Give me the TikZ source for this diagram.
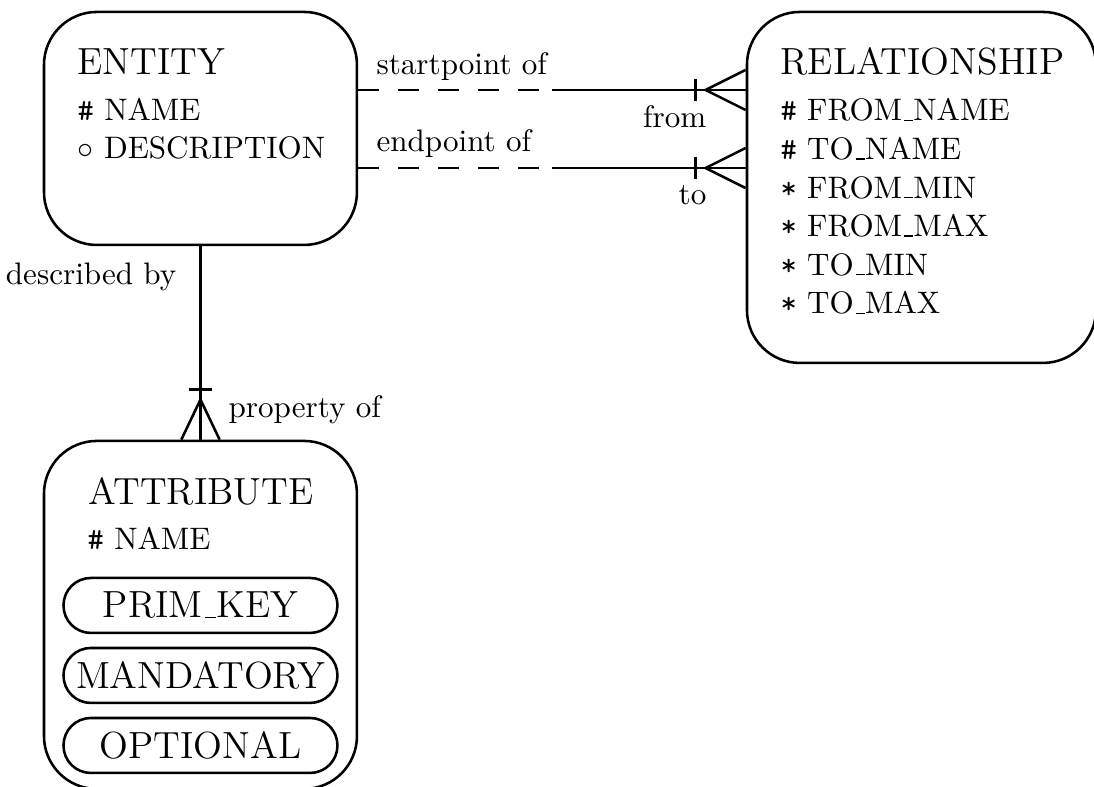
\documentclass[tikz,border=0pt]{standalone}
\usetikzlibrary{calc}

\newcommand{\usc}{\leavevmode\kern.06em\vbox{\hrule width.3em}}
\newcommand{\bodyfont}{\fontsize{9.7pt}{11.6pt}\selectfont}
\newcommand{\titlefont}{\fontsize{11.8pt}{14pt}\selectfont}

\tikzset{
  every node/.style={font=\bodyfont},
  erbox/.style={draw, thick, rounded corners=0.58cm, inner sep=0pt},
  pill/.style={draw, thick, rounded corners=0.3cm, minimum width=3.005cm,
    minimum height=0.603cm, inner sep=0pt, font=\titlefont},
  lbl/.style={inner sep=0pt, anchor=base west},
  erline/.style={thick},
}

\begin{document}
\begin{tikzpicture}
    \useasboundingbox (0,0) rectangle (12,8.632);

    % the three boxes
    \node[erbox, minimum width=3.433cm, minimum height=2.556cm] (entity) at (2.199,7.223) {};
    \node[erbox, minimum width=3.827cm, minimum height=3.85cm] (relship) at (10.107,6.576) {};
    \node[erbox, minimum width=3.433cm, minimum height=3.817cm] (attrib) at (2.199,1.887) {};

    % entity
    \node[lbl, font=\titlefont] (enttitle) at (0.845,7.810) {ENTITY};
    \node[lbl] (entname) at (0.845,7.305) {\texttt{\#} NAME};
    \node[lbl] (entdesc) at (0.845,6.895) {$\circ$ DESCRIPTION};

    % relationship
    \node[lbl, font=\titlefont] (reltitle) at (8.555,7.810) {RELATIONSHIP};
    \foreach \txt [count=\i] in {{\texttt{\#} FROM\usc NAME}, {\texttt{\#} TO\usc NAME},
        {\texttt{*} FROM\usc MIN}, {\texttt{*} FROM\usc MAX}, {\texttt{*} TO\usc MIN}, {\texttt{*} TO\usc MAX}}
      \node[lbl] (relattr\i) at (8.555,{7.305-0.423*(\i-1)}) {\txt};

    % attribute
    \node[lbl, font=\titlefont] (atttitle) at (0.965,3.093) {ATTRIBUTE};
    \node[lbl] (attname) at (0.954,2.600) {\texttt{\#} NAME};
    \node[pill] (primkey) at (2.199,1.991) {PRIM\usc KEY};
    \node[pill] (mandatory) at (2.199,1.223) {MANDATORY};
    \node[pill] (optional) at (2.199,0.455) {OPTIONAL};

    % entity -- relationship
    \coordinate (fromdash) at (6.055,7.645);
    \coordinate (todash) at (6.055,6.789);
    \foreach \c in {fromdash, todash} {
      \draw[erline, dash pattern=on 6.5pt off 6pt] (entity.east |- \c) -- (\c);
      \draw[erline] (\c) -- (relship.west |- \c);
      \coordinate (foot) at (relship.west |- \c);
      \draw[erline] ($(foot)+(0,0.22)$) -- ($(foot)-(0.44,0)$) -- ($(foot)-(0,0.22)$);
      \draw[erline] ($(foot)+(-0.55,0.12)$) -- ($(foot)+(-0.55,-0.12)$);
    }
    \node[lbl] (startlbl) at (4.124,7.810) {startpoint of};
    \node[lbl] (endlbl) at (4.124,6.965) {endpoint of};
    \node[inner sep=0pt, anchor=base east] (fromlbl) at (7.755,7.228) {from};
    \node[inner sep=0pt, anchor=base east] (tolbl) at (7.755,6.384) {to};

    % entity -- attribute
    \draw[erline] (entity.south) -- (attrib.north);
    \draw[erline] ($(attrib.north)+(-0.21,0)$) -- ($(attrib.north)+(0,0.44)$) -- ($(attrib.north)+(0.21,0)$);
    \draw[erline] ($(attrib.north)+(-0.13,0.55)$) -- ($(attrib.north)+(0.13,0.55)$);
    \node[inner sep=0pt, anchor=base east] (desclbl) at (1.941,5.506) {described by};
    \node[lbl] (proplbl) at (2.501,4.058) {property of};
\end{tikzpicture}
\end{document}
